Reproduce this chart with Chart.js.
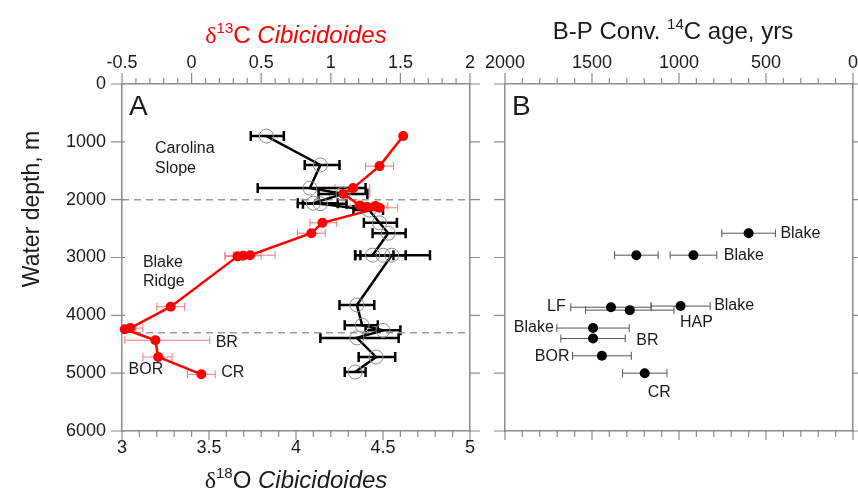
<!DOCTYPE html>
<html>
<head>
<meta charset="utf-8">
<script src="https://cdn.jsdelivr.net/npm/chart.js@4.4.0/dist/chart.umd.min.js"></script>
<style>
  html, body { margin: 0; padding: 0; background: #fff; }
  #wrap { position: relative; width: 858px; height: 496px; overflow: hidden; }
  canvas { position: absolute; top: 0; }
  #cA { left: 0; }
  #cB { left: 480px; }
</style>
</head>
<body>
<div id="wrap">
  <canvas id="cA" width="480" height="496"></canvas>
  <canvas id="cB" width="378" height="496"></canvas>
</div>
<script>
// ---- panel A: d18O (black, open circles), depth in m ----
const d18Depth = [900, 1400, 1800, 1900, 2060, 2070, 2180, 2400, 2580, 2960, 2960, 2960, 3820, 4170, 4260, 4390, 4720, 4980];
const d18O     = [3.83, 4.14, 4.08, 4.27, 4.10, 4.14, 4.42, 4.48, 4.53, 4.44, 4.50, 4.55, 4.35, 4.38, 4.50, 4.35, 4.46, 4.34];
const d18OLo   = [3.74, 4.05, 3.78, 4.13, 4.01, 4.04, 4.33, 4.39, 4.44, 4.34, 4.37, 4.34, 4.25, 4.28, 4.40, 4.14, 4.36, 4.28];
const d18OHi   = [3.93, 4.25, 4.40, 4.41, 4.24, 4.29, 4.50, 4.58, 4.63, 4.56, 4.63, 4.77, 4.45, 4.47, 4.60, 4.59, 4.57, 4.40];

// ---- panel A: d13C (red, filled) ----
const d13Depth = [900, 1420, 1800, 1900, 2100, 2125, 2110, 2140, 2400, 2580, 2960, 2970, 2980, 3850, 4220, 4240, 4430, 4720, 5020];
const d13C     = [1.52, 1.35, 1.16, 1.09, 1.21, 1.26, 1.32, 1.35, 0.94, 0.86, 0.42, 0.37, 0.33, -0.15, -0.44, -0.48, -0.26, -0.24, 0.07];
const d13CLo   = [null, 1.25, 1.03, 0.99, 1.12, 1.17, 1.24, 1.28, 0.85, 0.76, 0.30, 0.24, 0.24, -0.25, -0.50, -0.50, -0.48, -0.35, -0.03];
const d13CHi   = [null, 1.45, 1.28, 1.28, 1.30, 1.35, 1.41, 1.48, 1.04, 0.96, 0.60, 0.50, 0.42, -0.05, -0.35, -0.40, 0.13, -0.14, 0.17];
const d13Label = ['', '', '', '', '', '', '', '', '', '', '', '', '', '', '', '', 'BR', 'BOR', 'CR'];

// ---- panel B: conventional 14C age ----
const ageDepth = [2580, 2960, 2960, 3840, 3860, 3910, 4220, 4400, 4700, 5000];
const ageYrs   = [600, 917, 1245, 991, 1391, 1283, 1494, 1494, 1443, 1197];
const ageErr   = [154, 134, 125, 170, 231, 254, 208, 185, 169, 128];
const ageLabel = ['Blake', 'Blake', '', 'Blake', 'LF', 'HAP', 'Blake', 'BR', 'BOR', 'CR'];

// dashed boundaries in panel A
const boundaryDepth = [2000, 4300];

// region names in panel A (text, d18O position, depth of baseline)
const regionText  = ['Carolina', 'Slope', 'Blake', 'Ridge'];
const regionX     = [3.19, 3.19, 3.12, 3.12];
const regionDepth = [1190, 1535, 3165, 3495];

// label placement: [anchor, dx, dy, align]
const d13Place = { BR: ['barR', 6, 2, 'left'], BOR: ['pt', 5, 13, 'right'], CR: ['barR', 6, -2, 'left'] };
const agePlace = [['barR', 5, 0, 'left'], ['barR', 7, 0, 'left'], null, ['barR', 4, 0, 'left'],
                  ['barL', -5, -1, 'right'], ['barR', 6, 12, 'left'], ['barL', -3, 0, 'right'],
                  ['barR', 11, 2, 'left'], ['barL', -3, 1, 'right'], ['pt', 3, 19, 'left']];

const SANS = "'Liberation Sans', Arial, sans-serif";
const SERIF = "'Liberation Serif', 'Times New Roman', serif";
const INK = '#1a1a1a';
const AXIS = '#8c8c8c';
const TICKFONT = { family: SANS, size: 18 };

function fixW(w) { return s => { s.width = w; s.paddingTop = 0; s.paddingBottom = 0; }; }
function fixH(h) { return s => { s.height = h; s.paddingLeft = 0; s.paddingRight = 0; }; }

function richWidth(ctx, segs) {
  let w = 0;
  for (const s of segs) { ctx.font = s.font; w += ctx.measureText(s.t).width; }
  return w;
}
function drawRich(ctx, segs, cx, cy, color, rot) {
  ctx.save();
  ctx.translate(cx, cy);
  if (rot) ctx.rotate(rot);
  ctx.fillStyle = color;
  ctx.textAlign = 'left';
  ctx.textBaseline = 'alphabetic';
  let x = -richWidth(ctx, segs) / 2;
  for (const s of segs) {
    ctx.font = s.font;
    ctx.fillText(s.t, x, s.dy || 0);
    x += ctx.measureText(s.t).width;
  }
  ctx.restore();
}
function deltaTitle(iso, el, size) {
  return [
    { t: 'δ', font: `${size}px ${SERIF}` },
    { t: iso, font: `${Math.round(size * 0.62)}px ${SANS}`, dy: -size * 0.42 },
    { t: el + ' ', font: `${size}px ${SANS}` },
    { t: 'Cibicidoides', font: `italic ${size}px ${SANS}` }
  ];
}
function drawLabels(ctx, xs, ys, xv, yv, lo, hi, labels, placeOf) {
  ctx.save();
  ctx.font = `16px ${SANS}`;
  ctx.fillStyle = INK;
  ctx.textBaseline = 'middle';
  labels.forEach((txt, i) => {
    if (!txt) return;
    const [anchor, dx, dy, align] = placeOf(txt, i);
    const px = xs.getPixelForValue(xv[i]), py = ys.getPixelForValue(yv[i]);
    const a = xs.getPixelForValue(lo[i]), b = xs.getPixelForValue(hi[i]);
    const base = anchor === 'barR' ? Math.max(a, b) : anchor === 'barL' ? Math.min(a, b) : px;
    ctx.textAlign = align;
    ctx.fillText(txt, base + dx, py + dy);
  });
  ctx.restore();
}

const errorBars = {
  id: 'errorBars',
  beforeDatasetsDraw(chart) {
    const ctx = chart.ctx;
    chart.data.datasets.forEach((ds, di) => {
      if (!ds.err) return;
      const meta = chart.getDatasetMeta(di);
      const xs = chart.scales[meta.xAxisID], ys = chart.scales[meta.yAxisID];
      ctx.save();
      ctx.strokeStyle = ds.err.color;
      ctx.lineWidth = ds.err.width;
      ds.data.forEach((d, i) => {
        const lo = ds.err.lo[i], hi = ds.err.hi[i];
        if (lo == null) return;
        const y = ys.getPixelForValue(d.y);
        const a = xs.getPixelForValue(lo), b = xs.getPixelForValue(hi);
        ctx.beginPath();
        ctx.moveTo(a, y); ctx.lineTo(b, y);
        ctx.moveTo(a, y - ds.err.cap); ctx.lineTo(a, y + ds.err.cap);
        ctx.moveTo(b, y - ds.err.cap); ctx.lineTo(b, y + ds.err.cap);
        ctx.stroke();
      });
      ctx.restore();
    });
  }
};

// tick marks drawn by hand: majors longer, minors short, all outward
function makeTicks(axes) {
  return {
    id: 'tickMarks',
    afterDraw(chart) {
      const ctx = chart.ctx, ca = chart.chartArea;
      ctx.save();
      ctx.strokeStyle = AXIS;
      ctx.lineWidth = 1.2;
      ctx.beginPath();
      for (const a of axes) {
        const sc = chart.scales[a.id];
        for (const t of sc.ticks) {
          const q = t.value / a.major;
          const major = Math.abs(q - Math.round(q)) < 1e-6;
          const out = major ? a.out : a.minor;
          const inn = major ? (a.inn || 0) : 0;
          const p = sc.getPixelForValue(t.value);
          if (sc.position === 'left')   { ctx.moveTo(ca.left - out, p);  ctx.lineTo(ca.left + inn, p); }
          if (sc.position === 'right')  { ctx.moveTo(ca.right + out, p); ctx.lineTo(ca.right - inn, p); }
          if (sc.position === 'top')    { ctx.moveTo(p, ca.top - out);   ctx.lineTo(p, ca.top + inn); }
          if (sc.position === 'bottom') { ctx.moveTo(p, ca.bottom + out); ctx.lineTo(p, ca.bottom - inn); }
        }
      }
      ctx.stroke();
      ctx.restore();
    }
  };
}

const refLines = {
  id: 'refLines',
  beforeDatasetsDraw(chart) {
    const ctx = chart.ctx, ca = chart.chartArea, ys = chart.scales.y;
    ctx.save();
    ctx.strokeStyle = '#9a9a9a';
    ctx.lineWidth = 1.5;
    ctx.setLineDash([7, 5]);
    boundaryDepth.forEach(d => {
      const y = ys.getPixelForValue(d);
      ctx.beginPath(); ctx.moveTo(ca.left, y); ctx.lineTo(ca.right, y); ctx.stroke();
    });
    ctx.restore();
  }
};

const decorA = {
  id: 'decorA',
  afterDraw(chart) {
    const ctx = chart.ctx, ca = chart.chartArea;
    const sx = chart.scales.x, sx2 = chart.scales.x2, sy = chart.scales.y;
    const mid = (ca.left + ca.right) / 2;
    drawRich(ctx, deltaTitle('13', 'C', 24), mid, 43, '#ff0000');
    drawRich(ctx, deltaTitle('18', 'O', 24), mid, 488, INK);
    drawRich(ctx, [{ t: 'Water depth, m', font: `23px ${SANS}` }], 39, 209, INK, -Math.PI / 2);

    ctx.save();
    ctx.fillStyle = INK;
    ctx.textAlign = 'left';
    ctx.textBaseline = 'alphabetic';
    ctx.font = `28px ${SANS}`;
    ctx.fillText('A', ca.left + 7, ca.top + 31);
    ctx.font = `16px ${SANS}`;
    regionText.forEach((t, i) => {
      ctx.fillText(t, sx.getPixelForValue(regionX[i]), sy.getPixelForValue(regionDepth[i]));
    });
    ctx.restore();

    drawLabels(ctx, sx2, sy, d13C, d13Depth, d13CLo, d13CHi, d13Label, t => d13Place[t]);
  }
};

const decorB = {
  id: 'decorB',
  afterDraw(chart) {
    const ctx = chart.ctx, ca = chart.chartArea;
    const sx = chart.scales.x, sy = chart.scales.y;
    drawRich(ctx, [
      { t: 'B-P Conv. ', font: `24px ${SANS}` },
      { t: '14', font: `15px ${SANS}`, dy: -10 },
      { t: 'C age, yrs', font: `24px ${SANS}` }
    ], (ca.left + ca.right) / 2 - 6, 39, INK);

    ctx.save();
    ctx.fillStyle = INK;
    ctx.textAlign = 'left';
    ctx.textBaseline = 'alphabetic';
    ctx.font = `28px ${SANS}`;
    ctx.fillText('B', ca.left + 7, ca.top + 31);
    ctx.restore();

    const lo = ageYrs.map((v, i) => v - ageErr[i]);
    const hi = ageYrs.map((v, i) => v + ageErr[i]);
    drawLabels(ctx, sx, sy, ageYrs, ageDepth, lo, hi, ageLabel, (t, i) => agePlace[i]);
  }
};

const noGrid = { display: false, drawTicks: false };
const frame = { color: AXIS, width: 1.5 };
const halfStep = v => (Math.abs(v * 2 - Math.round(v * 2)) < 1e-6 ? String(Math.round(v * 10) / 10) : '');

new Chart(document.getElementById('cA'), {
  type: 'scatter',
  data: {
    datasets: [
      {
        label: 'δ13C',
        xAxisID: 'x2', yAxisID: 'y',
        data: d13C.map((v, i) => ({ x: v, y: d13Depth[i] })),
        showLine: true,
        borderColor: '#ff0000', borderWidth: 2.5,
        pointRadius: 5, pointBackgroundColor: '#ff0000', pointBorderWidth: 0,
        clip: false,
        err: { lo: d13CLo, hi: d13CHi, color: '#ff7575', width: 1, cap: 4 }
      },
      {
        label: 'δ18O',
        xAxisID: 'x', yAxisID: 'y',
        data: d18O.map((v, i) => ({ x: v, y: d18Depth[i] })),
        showLine: true,
        borderColor: '#000', borderWidth: 2.5,
        pointRadius: 7, pointBorderColor: '#8c8c8c', pointBorderWidth: 1,
        pointBackgroundColor: 'rgba(0,0,0,0)',
        err: { lo: d18OLo, hi: d18OHi, color: '#000', width: 2.5, cap: 5 }
      }
    ]
  },
  options: {
    responsive: false,
    animation: false,
    layout: { padding: 0 },
    plugins: { legend: { display: false }, tooltip: { enabled: false } },
    scales: {
      x: {
        type: 'linear', axis: 'x', position: 'bottom', min: 3, max: 5,
        grid: noGrid, border: frame,
        ticks: { stepSize: 0.1, autoSkip: false, maxRotation: 0, callback: halfStep, font: TICKFONT, color: INK, padding: 6 },
        afterFit: fixH(65)
      },
      x2: {
        type: 'linear', axis: 'x', position: 'top', min: -0.5, max: 2,
        grid: noGrid, border: frame,
        ticks: { stepSize: 0.1, autoSkip: false, maxRotation: 0, callback: halfStep, font: TICKFONT, color: INK, padding: 10 },
        afterFit: fixH(84)
      },
      y: {
        type: 'linear', axis: 'y', position: 'left', min: 0, max: 6000, reverse: true,
        grid: noGrid, border: frame,
        ticks: { stepSize: 1000, callback: v => String(v), font: TICKFONT, color: INK, padding: 16 },
        afterFit: fixW(122)
      },
      y2: {
        type: 'linear', axis: 'y', position: 'right', min: 0, max: 6000, reverse: true,
        grid: noGrid, border: frame,
        ticks: { stepSize: 1000, display: false },
        afterFit: fixW(10)
      }
    }
  },
  plugins: [
    errorBars, refLines,
    makeTicks([
      { id: 'x', major: 0.5, out: 9, minor: 6 },
      { id: 'x2', major: 0.5, out: 11, minor: 6 },
      { id: 'y', major: 1000, out: 11, inn: 3, minor: 0 },
      { id: 'y2', major: 1000, out: 10, minor: 0 }
    ]),
    decorA
  ]
});

new Chart(document.getElementById('cB'), {
  type: 'scatter',
  data: {
    datasets: [{
      label: 'age',
      xAxisID: 'x', yAxisID: 'y',
      data: ageYrs.map((v, i) => ({ x: v, y: ageDepth[i] })),
      showLine: false,
      pointRadius: 5, pointBackgroundColor: '#000', pointBorderWidth: 0,
      err: {
        lo: ageYrs.map((v, i) => v - ageErr[i]),
        hi: ageYrs.map((v, i) => v + ageErr[i]),
        color: '#555', width: 1, cap: 4
      }
    }]
  },
  options: {
    responsive: false,
    animation: false,
    layout: { padding: 0 },
    plugins: { legend: { display: false }, tooltip: { enabled: false } },
    scales: {
      x: {
        type: 'linear', axis: 'x', position: 'top', min: 0, max: 2000, reverse: true,
        grid: noGrid, border: frame,
        ticks: { stepSize: 100, autoSkip: false, maxRotation: 0, callback: v => (v % 500 === 0 ? String(v) : ''), font: TICKFONT, color: INK, padding: 10 },
        afterFit: fixH(84)
      },
      xb: {
        type: 'linear', axis: 'x', position: 'bottom', min: 0, max: 2000, reverse: true,
        grid: noGrid, border: frame,
        ticks: { stepSize: 100, display: false },
        afterFit: fixH(65)
      },
      y: {
        type: 'linear', axis: 'y', position: 'left', min: 0, max: 6000, reverse: true,
        grid: noGrid, border: frame,
        ticks: { stepSize: 1000, display: false },
        afterFit: fixW(25)
      },
      y2: {
        type: 'linear', axis: 'y', position: 'right', min: 0, max: 6000, reverse: true,
        grid: noGrid, border: frame,
        ticks: { stepSize: 1000, display: false },
        afterFit: fixW(3)
      }
    }
  },
  plugins: [
    errorBars,
    makeTicks([
      { id: 'x', major: 500, out: 11, minor: 6 },
      { id: 'xb', major: 500, out: 9, minor: 6 },
      { id: 'y', major: 1000, out: 11, minor: 0 },
      { id: 'y2', major: 1000, out: 10, minor: 0 }
    ]),
    decorB
  ]
});
</script>
</body>
</html>
